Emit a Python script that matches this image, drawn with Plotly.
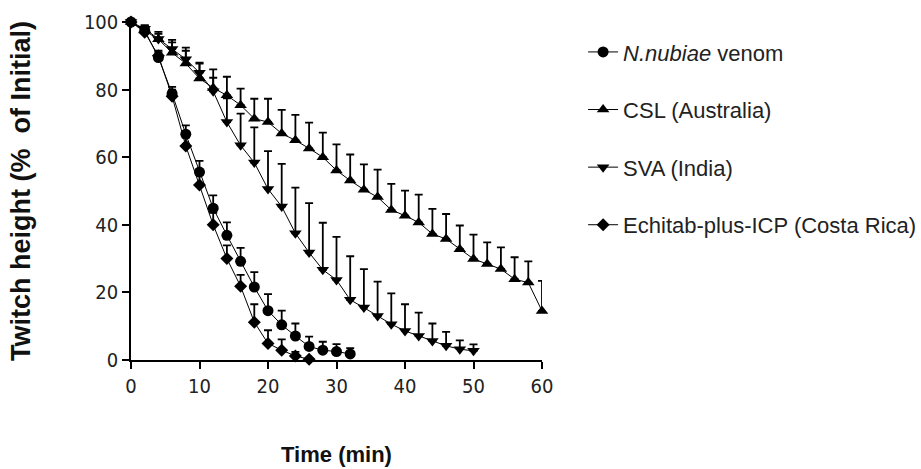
import plotly.graph_objects as go

# ---- data ----
t_nub = [0, 2, 4, 6, 8, 10, 12, 14, 16, 18, 20, 22, 24, 26, 28, 30, 32]
y_nub = [100, 97.5, 89.5, 78.8, 66.8, 55.6, 44.9, 36.9, 29.2, 21.6, 14.6, 10.4, 7.1, 4.0, 2.9, 2.5, 1.8]
e_nub = [0.5, 1, 1.5, 2, 2.6, 3.3, 3.8, 3.8, 4, 4.4, 4.9, 4.2, 3.7, 2.9, 2.5, 2.2, 1.7]

t_csl = [0, 2, 4, 6, 8, 10, 12, 14, 16, 18, 20, 22, 24, 26, 28, 30,
         32, 34, 36, 38, 40, 42, 44, 46, 48, 50, 52, 54, 56, 58, 60]
y_csl = [100, 97.5, 94.9, 90.9, 87.7, 83.3, 80.5, 78.3, 75.4, 71.4, 70.4, 67.0, 65.0, 62.6, 60.0, 56.1,
         53.1, 50.4, 48.2, 44.4, 42.7, 40.7, 37.3, 35.8, 32.8, 29.9, 28.4, 26.9, 23.9, 22.9, 14.5]
e_csl = [0.5, 1.5, 2.2, 3.8, 4.7, 4.4, 5.5, 5.5, 4.9, 5.9, 6.9, 7.0, 7.5, 7.6, 7.3, 7.7,
         7.7, 7.5, 8.1, 7.7, 7.4, 8.2, 7.4, 7.4, 7.0, 7.2, 6.4, 6.4, 6.5, 6.3, 8.9]

t_sva = [0, 2, 4, 6, 8, 10, 12, 14, 16, 18, 20, 22, 24, 26, 28, 30,
         32, 34, 36, 38, 40, 42, 44, 46, 48, 50]
y_sva = [100, 98, 95, 92, 89, 85, 79.5, 70.4, 63.5, 58.4, 50.6, 45.4, 37.5, 31.8, 26.7, 23.7,
         17.8, 15.5, 13.0, 10.6, 8.6, 7.1, 5.6, 4.2, 3.2, 2.7]
e_sva = [0.5, 1, 1.5, 2, 2.5, 3, 4, 7, 9.4, 10.4, 11.2, 12.6, 13.5, 14.6, 13.9, 12.7,
         12.9, 11.4, 10.2, 9.1, 7.9, 6.9, 5.2, 4.1, 2.6, 1.9]

t_ech = [0, 2, 4, 6, 8, 10, 12, 14, 16, 18, 20, 22, 24, 26]
y_ech = [100, 97, 90, 78, 63.3, 51.8, 40.0, 30.0, 21.8, 11.2, 4.9, 2.9, 1.2, 0.2]
e_ech = [0.5, 1, 1.5, 2, 2.5, 3, 3.5, 3.9, 3.4, 5.3, 3.9, 3.2, 1.2, 0.3]

names = ["<i>N.nubiae</i> venom", "CSL (Australia)", "SVA (India)", "Echitab-plus-ICP (Costa Rica)"]
symbols = ["circle", "triangle-up", "triangle-down", "diamond"]
msizes = [11, 11, 11, 10]

series = [(t_nub, y_nub, e_nub), (t_csl, y_csl, e_csl), (t_sva, y_sva, e_sva), (t_ech, y_ech, e_ech)]

fig = go.Figure()
for i, (tx, ty, te) in enumerate(series):
    fig.add_trace(go.Scatter(
        x=tx, y=ty, name=names[i], mode="lines+markers",
        line=dict(color="black", width=1),
        marker=dict(symbol=symbols[i], size=msizes[i], color="black"),
        error_y=dict(type="data", symmetric=False, array=te, arrayminus=[0] * len(te),
                     color="black", thickness=1.8, width=4),
        cliponaxis=False, legendgroup=str(i),
    ))

tickfont = dict(family="Liberation Sans Narrow, DejaVu Sans Condensed, Arial Narrow, Liberation Sans, Arial",
                size=20, color="#222")

fig.update_layout(
    width=921, height=469,
    margin=dict(l=131, r=379, t=22, b=109, autoexpand=False),
    plot_bgcolor="white", paper_bgcolor="white",
    showlegend=True,
    legend=dict(x=1.1, y=0.973, xanchor="left", yanchor="top",
                font=dict(family="Liberation Sans, Arial", size=22, color="#222"),
                tracegroupgap=26, itemwidth=30, bgcolor="rgba(0,0,0,0)"),
    xaxis=dict(range=[0, 60], tickvals=[0, 10, 20, 30, 40, 50, 60],
               showline=True, linecolor="black", linewidth=1.5, showgrid=False, zeroline=False,
               ticks="outside", ticklen=7, tickwidth=1.5, tickcolor="black", tickfont=tickfont,
               title=dict(text="<b>Time (min)</b>", standoff=50,
                          font=dict(family="Liberation Sans, Arial", size=22, color="#111"))),
    yaxis=dict(range=[0, 100], tickvals=[0, 20, 40, 60, 80, 100],
               showline=True, linecolor="black", linewidth=1.5, showgrid=False, zeroline=False,
               ticks="outside", ticklen=7, tickwidth=1.5, tickcolor="black", tickfont=tickfont,
               title=dict(text="<b>Twitch height (%  of Initial)</b>", standoff=45,
                          font=dict(family="Liberation Sans, Arial", size=27, color="#111"))),
)

fig.write_html("out.html", config={"displayModeBar": False},
               post_script="document.body.style.margin='0px';")
